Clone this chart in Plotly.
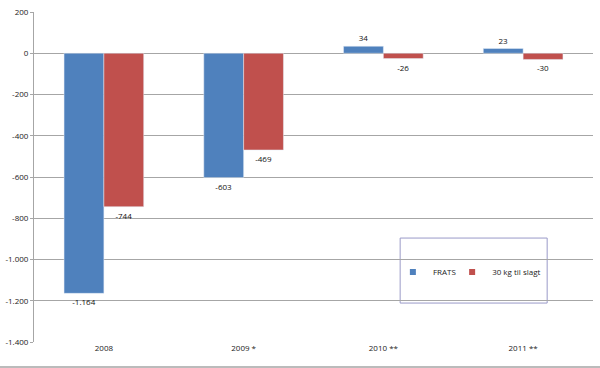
import plotly.graph_objects as go

categories = ["2008", "2009 *", "2010 **", "2011 **"]
frats = [-1164, -603, 34, 23]
slagt = [-744, -469, -26, -30]
frats_labels = ["-1.164", "-603", "34", "23"]
slagt_labels = ["-744", "-469", "-26", "-30"]
series_names = ["FRATS", "30 kg til slagt"]
y_ticks = list(range(-1400, 201, 200))
y_tick_text = [f"{v:,}".replace(",", ".") for v in y_ticks]

FONT = "Open Sans"
BLUE = "#4F81BD"
RED = "#C0504D"

fig = go.Figure()
fig.add_trace(go.Bar(
    name=series_names[0], x=categories, y=frats, text=frats_labels,
    textposition="outside", marker_color=BLUE, showlegend=False,
    textfont=dict(size=8, color="#111", family=FONT), cliponaxis=False,
))
fig.add_trace(go.Bar(
    name=series_names[1], x=categories, y=slagt, text=slagt_labels,
    textposition="outside", marker_color=RED, showlegend=False,
    textfont=dict(size=8, color="#111", family=FONT), cliponaxis=False,
))
# legend-only entries with small square swatches, one per legend box
for name, col, lg in zip(series_names, [BLUE, RED], ["legend", "legend2"]):
    fig.add_trace(go.Scatter(
        name=name, x=[None], y=[None], mode="markers", legend=lg,
        marker=dict(symbol="square", size=6, color=col),
    ))

leg_common = dict(
    orientation="v", yanchor="middle", xanchor="left",
    bgcolor="rgba(0,0,0,0)", borderwidth=0, itemwidth=30,
    font=dict(size=8, family=FONT, color="#222"),
)

fig.update_layout(
    width=600, height=368,
    margin=dict(l=34, r=7, t=12, b=26),
    paper_bgcolor="white", plot_bgcolor="white",
    barmode="group", bargap=0.43, bargroupgap=0,
    font=dict(family=FONT, size=8, color="#222"),
    showlegend=True,
    legend=dict(x=0.642, y=0.212, **leg_common),
    legend2=dict(x=0.748, y=0.212, **leg_common),
    shapes=[
        dict(type="rect", xref="paper", yref="paper", x0=0.655, x1=0.918,
             y0=0.118, y1=0.315, line=dict(color="#9a9ac8", width=1),
             fillcolor="white", layer="below"),
        dict(type="line", xref="paper", yref="paper", x0=-0.07, x1=1.03,
             y0=-0.076, y1=-0.076, line=dict(color="#bbbbbb", width=2)),
    ],
)
fig.update_xaxes(
    showgrid=False, showline=False, ticks="", automargin=False,
    tickfont=dict(size=8, family=FONT, color="#222"),
)
fig.update_yaxes(
    range=[-1400, 200], tickvals=y_ticks, ticktext=y_tick_text, automargin=False,
    showgrid=True, gridcolor="#a6a6a6", gridwidth=1,
    zeroline=True, zerolinecolor="#a6a6a6", zerolinewidth=1,
    showline=True, linecolor="#a6a6a6", linewidth=1,
    ticks="outside", ticklen=3, tickcolor="#a6a6a6",
    tickfont=dict(size=8, family=FONT, color="#222"),
)

fig.write_html(
    "out.html",
    config={"displayModeBar": False},
    post_script="document.body.style.margin='0';",
)
